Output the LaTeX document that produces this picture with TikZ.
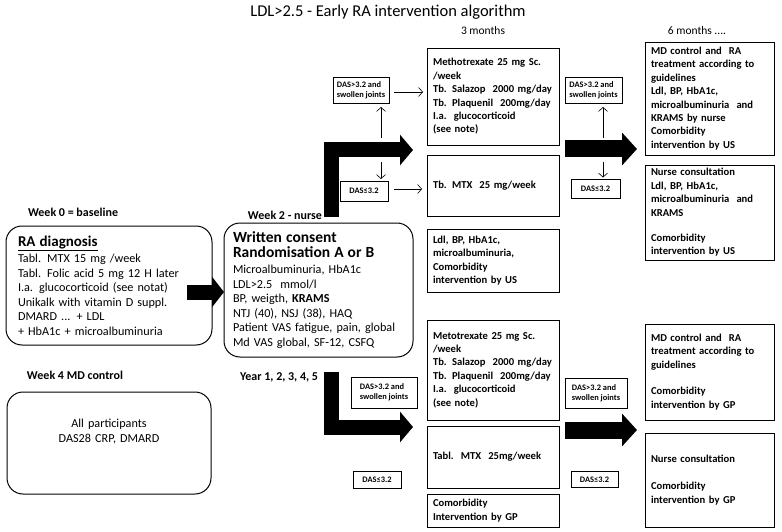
\documentclass[tikz,border=0pt]{standalone}
\usepackage{fontspec}
\setmainfont{Carlito}
\usetikzlibrary{arrows.meta}
\begin{document}
\begin{tikzpicture}[x=1pt,y=-1pt,
  every node/.style={inner sep=0pt, outer sep=0pt},
  rbox/.style={draw, line width=1pt, rounded corners=16pt, align=left, inner xsep=12pt, anchor=north west, font=\fontsize{12.2}{14.5}\selectfont},
  tbox/.style={draw, line width=0.9pt, align=left, inner xsep=6pt, anchor=north west, font=\fontsize{10.6}{13.4}\selectfont\bfseries},
  dbox/.style={draw, line width=0.8pt, align=left, font=\fontsize{8.4}{10}\selectfont\bfseries},
  lbl/.style={font=\fontsize{12}{14}\selectfont\bfseries, anchor=west},
  hdr/.style={font=\fontsize{11.5}{13}\selectfont},
  thinarrow/.style={line width=0.6pt, -{Straight Barb[length=4pt,width=9pt]}},
  bigarrow/.style={line width=15pt, -{Triangle[length=13pt,width=30pt]}},
  bigarrowr/.style={line width=17pt, -{Triangle[length=15pt,width=32pt]}},
]
\useasboundingbox (0,0) rectangle (782,532);

% title and headers
\node[font=\fontsize{16.5}{19}\selectfont] (title) at (388,12) {LDL>2.5 - Early RA intervention algorithm};
\node[hdr] (m3) at (483,31) {3 months};
\node[hdr] (m6) at (697,31) {6 months ....};

% labels
\node[lbl] (w0) at (28,212) {Week 0 = baseline};
\node[lbl, anchor=east] (w2) at (322,215) {Week 2 - nurse};
\node[lbl] (w4) at (27,375) {Week 4 MD control};
\node[lbl, anchor=east] (yr) at (318,377) {Year 1, 2, 3, 4, 5};

% left rounded boxes
\node[rbox, text width=182pt, minimum height=119pt] (ra) at (6,226)
 {{\fontsize{15}{17}\selectfont\bfseries\underline{RA diagnosis}}\\[2pt]
  Tabl. MTX 15 mg /week\\
  Tabl. Folic acid 5 mg 12 H later\\
  I.a. glucocorticoid (see notat)\\
  Unikalk with vitamin D suppl.\\
  DMARD ... + LDL\\
  + HbA1c + microalbuminuria};
\node[rbox, inner xsep=9pt, text width=171pt, minimum height=134pt] (wc) at (224,223)
 {{\fontsize{15.5}{20}\selectfont\bfseries Written consent\\Randomisation A or B}\\[2pt]
  Microalbuminuria, HbA1c\\
  LDL>2.5\ \ mmol/l\\
  BP, weigth, \textbf{KRAMS}\\
  NTJ (40), NSJ (38), HAQ\\
  Patient VAS fatigue, pain, global\\
  Md VAS global, SF-12, CSFQ};
\node[rbox, align=center, text width=180pt, minimum height=102pt] (all) at (7,392)
 {All participants\\DAS28 CRP, DMARD\\[9.5pt]\mbox{}};

% middle column boxes
\node[tbox, text width=120pt, minimum height=97pt] (metA) at (427,48)
 {Methotrexate 25 mg Sc.\\/week\\Tb. Salazop\ \ 2000 mg/day\\Tb. Plaquenil\ \ 200mg/day\\I.a.\ \ glucocorticoid\\(see note)};
\node[tbox, text width=120pt, minimum height=61pt] (mtxA) at (427,155)
 {Tb. MTX\ \ 25 mg/week};
\node[tbox, text width=120pt, minimum height=63pt] (ldl) at (427,229)
 {Ldl, BP, HbA1c,\\microalbuminuria,\\Comorbidity\\intervention by US};
\node[tbox, text width=120pt, minimum height=100pt] (metB) at (427,320)
 {Metotrexate 25 mg Sc.\\/week\\Tb. Salazop\ \ 2000 mg/day\\Tb. Plaquenil\ \ 200mg/day\\I.a.\ \ glucocorticoid\\(see note)};
\node[tbox, text width=120pt, minimum height=62pt] (mtxB) at (427,426)
 {Tabl.\ \ MTX\ \ 25mg/week};
\node[tbox, text width=120pt, minimum height=33pt] (gp) at (427,494)
 {Comorbidity\\Intervention by GP};

% right column boxes
\node[tbox, text width=117pt, minimum height=113pt] (mdA) at (645,42)
 {MD control and\ \ RA\\treatment according to\\guidelines\\Ldl, BP, HbA1c,\\microalbuminuria\ \ and\\KRAMS by nurse\\Comorbidity\\intervention by US};
\node[tbox, text width=117pt, minimum height=95pt] (nurseA) at (645,165)
 {Nurse consultation\\Ldl, BP, HbA1c,\\microalbuminuria\ \ and\\KRAMS\\[12pt]Comorbidity\\intervention by US};
\node[tbox, text width=117pt, minimum height=96pt] (mdB) at (645,324)
 {MD control and\ \ RA\\treatment according to\\guidelines\\[13pt]Comorbidity\\intervention by GP};
\node[tbox, text width=117pt, minimum height=94pt] (nurseB) at (645,433)
 {Nurse consultation\\[14pt]Comorbidity\\intervention by GP};

% DAS boxes
\node[dbox, minimum width=56pt, minimum height=26pt, inner xsep=3pt] (dasA) at (361,90) {DAS>3.2 and\\swollen joints};
\node[dbox, minimum width=48pt, minimum height=20pt] (dasB) at (364,191) {DAS≤3.2};
\node[dbox, minimum width=57pt, minimum height=26pt, inner xsep=3pt] (dasC) at (593.5,90) {DAS>3.2 and\\swollen joints};
\node[dbox, minimum width=49pt, minimum height=19pt] (dasD) at (595.5,189) {DAS≤3.2};
\node[dbox, minimum width=66pt, minimum height=31pt, inner xsep=6pt] (dasE) at (384,392.5) {DAS>3.2 and\\swollen joints};
\node[dbox, minimum width=48pt, minimum height=17pt] (dasF) at (377,480) {DAS≤3.2};
\node[dbox, minimum width=62pt, minimum height=30pt, inner xsep=4pt] (dasG) at (596,393) {DAS>3.2 and\\swollen joints};
\node[dbox, minimum width=47pt, minimum height=16pt] (dasH) at (594.5,479.5) {DAS≤3.2};

% thin arrows
\coordinate (vA1) at (381,138);
\coordinate (vA2) at (381,162);
\coordinate (vC1) at (603,138);
\coordinate (vC2) at (603,162);
\draw[thinarrow, shorten >=4pt] (vA1) -- (vA1 |- dasA.south);
\draw[thinarrow, shorten >=2pt] (vA2) -- (vA2 |- dasB.north);
\draw[thinarrow, shorten >=4pt] (vC1) -- (vC1 |- dasC.south);
\draw[thinarrow, shorten >=2pt] (vC2) -- (vC2 |- dasD.north);
\draw[thinarrow, shorten <=5pt, shorten >=4pt] ([yshift=-2pt]dasA.east) -- ([yshift=-2pt]metA.west |- dasA.east);
\draw[thinarrow, shorten <=6pt, shorten >=5pt] ([yshift=2pt]dasB.east) -- ([yshift=2pt]mtxA.west |- dasB.east);

% thick arrows
\coordinate (raOut) at (187,292);
\coordinate (w2start) at (331,217);
\coordinate (upTip) at (413,150);
\coordinate (yrstart) at (331,372);
\coordinate (loTip) at (413,427);
\coordinate (rA) at (565,149);
\coordinate (rB) at (565,430);
\draw[bigarrow, -{Triangle[length=12pt,width=30pt]}] (raOut) -- (raOut -| wc.west);
\draw[bigarrow] (w2start) |- (upTip);
\draw[bigarrow] (yrstart) |- (loTip);
\draw[bigarrowr] (rA) -- ([xshift=-8pt]rA -| mdA.west);
\draw[bigarrowr] (rB) -- ([xshift=-8pt]rB -| mdB.west);
\end{tikzpicture}
\end{document}
